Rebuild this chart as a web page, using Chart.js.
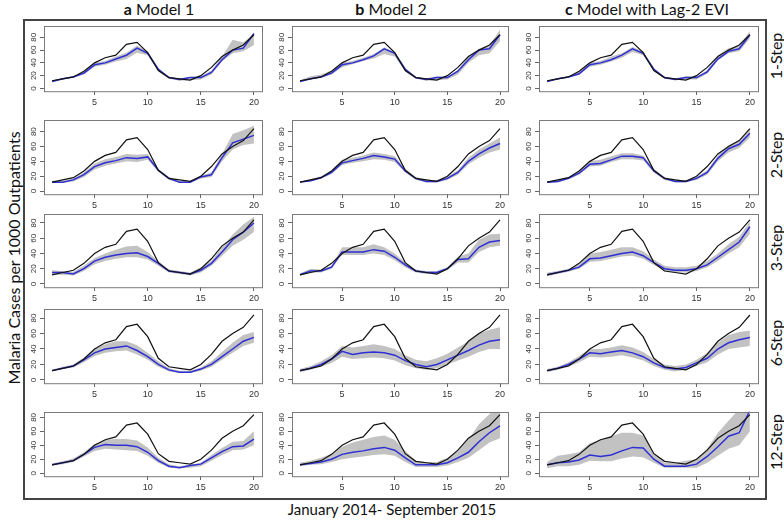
<!DOCTYPE html>
<html>
<head>
<meta charset="utf-8">
<script src="https://cdn.jsdelivr.net/npm/chart.js@4.4.1/dist/chart.umd.min.js"></script>
<style>
body { margin: 0; background: #fff; width: 784px; height: 521px; position: relative; overflow: hidden; font-family: Lato, "Open Sans", sans-serif; color: #111; }
#frame { position: absolute; left: 23px; top: 19px; width: 740px; height: 477px; border: 2px solid #444; }
.ttl { position: absolute; top: 0; font-size: 16px; line-height: 18px; white-space: nowrap; transform: translateX(-50%); }
.rot { position: absolute; font-size: 16px; white-space: nowrap; transform: translate(-50%, -50%) rotate(-90deg); }
.xt { position: absolute; font-size: 15px; white-space: nowrap; transform: translate(-50%, -50%); }
</style>
</head>
<body>
<div id="frame"></div>
<div class="ttl" style="left:159px"><b>a</b> Model 1</div>
<div class="ttl" style="left:391px"><b>b</b> Model 2</div>
<div class="ttl" style="left:647px"><b>c</b> Model with Lag-2 EVI</div>
<div class="rot" style="left:775px;top:56px">1-Step</div>
<div class="rot" style="left:775px;top:155px">2-Step</div>
<div class="rot" style="left:775px;top:248px">3-Step</div>
<div class="rot" style="left:775px;top:343px">6-Step</div>
<div class="rot" style="left:775px;top:442px">12-Step</div>
<div class="rot" style="left:13px;top:258px">Malaria Cases per 1000 Outpatients</div>
<div class="xt" style="left:392px;top:509px">January 2014- September 2015</div>
<script>
// time index (months) and tick labels
var steps = [1, 2, 3, 4, 5, 6, 7, 8, 9, 10, 11, 12, 13, 14, 15, 16, 17, 18, 19, 20];
var xTicks = [5, 10, 15, 20];
var yTicks = [0, 20, 40, 60, 80];

// observed malaria cases (same in every panel)
var observed = [12, 15, 18, 27, 40, 48, 52, 69, 72, 56, 28, 17, 15, 13, 20, 33, 50, 60, 68, 84];

// 1-step
var predA1 = [11, 15, 18, 24, 37, 40, 46, 52, 63, 55, 30, 17, 14, 17, 17, 25, 45, 60, 63, 86];
var loA1 = [10, 14, 17, 22, 34, 37, 42, 46, 56, 52, 27, 15, 12, 13, 14, 22, 42, 55, 58, 68];
var hiA1 = [13, 16, 19, 26, 40, 43, 50, 56, 67, 58, 32, 18, 16, 18, 19, 28, 50, 76, 72, 86];
var predB1 = [11, 15, 18, 24, 37, 40, 45, 51, 62, 55, 30, 17, 14, 17, 17, 27, 45, 60, 62, 84];
var loB1 = [10, 14, 17, 22, 33, 38, 43, 47, 54, 50, 26, 15, 12, 13, 14, 22, 40, 52, 55, 74];
var hiB1 = [13, 19, 22, 28, 40, 43, 48, 54, 64, 57, 32, 18, 16, 19, 18, 29, 50, 62, 68, 92];
var predC1 = [11, 15, 18, 23, 37, 40, 45, 52, 62, 55, 30, 17, 14, 17, 17, 26, 46, 58, 62, 84];
var loC1 = [10, 14, 17, 21, 34, 37, 42, 48, 57, 52, 27, 15, 13, 14, 14, 23, 44, 55, 58, 78];
var hiC1 = [13, 16, 19, 26, 40, 43, 50, 55, 65, 58, 32, 18, 16, 19, 18, 29, 52, 63, 67, 90];

// 2-step
var predA2 = [12, 12, 15, 22, 33, 38, 41, 45, 44, 46, 28, 17, 12, 12, 19, 22, 45, 65, 70, 75];
var loA2 = [11, 11, 13, 19, 29, 34, 37, 40, 39, 42, 26, 15, 11, 11, 17, 19, 40, 56, 62, 64];
var hiA2 = [14, 14, 17, 25, 37, 43, 46, 50, 49, 50, 30, 19, 14, 13, 21, 25, 50, 77, 82, 88];
var predB2 = [12, 14, 18, 25, 38, 41, 44, 48, 46, 43, 27, 17, 13, 13, 17, 25, 40, 50, 58, 64];
var loB2 = [11, 13, 17, 23, 35, 38, 40, 43, 42, 39, 25, 15, 12, 12, 15, 22, 36, 45, 52, 56];
var hiB2 = [13, 16, 20, 28, 42, 45, 48, 52, 50, 47, 30, 19, 15, 15, 20, 28, 45, 56, 64, 72];
var predC2 = [12, 13, 17, 24, 36, 37, 42, 47, 47, 45, 27, 17, 13, 13, 17, 25, 44, 57, 63, 78];
var loC2 = [11, 12, 16, 22, 33, 34, 39, 43, 43, 41, 25, 15, 12, 12, 15, 22, 40, 52, 58, 72];
var hiC2 = [13, 15, 19, 27, 40, 42, 47, 51, 51, 48, 30, 19, 15, 15, 19, 28, 48, 62, 68, 84];

// 3-step
var predA3 = [15, 15, 13, 20, 30, 35, 38, 40, 41, 36, 27, 17, 15, 13, 18, 27, 42, 58, 68, 80];
var loA3 = [12, 12, 11, 17, 26, 30, 33, 35, 35, 32, 24, 15, 13, 11, 15, 24, 37, 50, 58, 68];
var hiA3 = [18, 17, 16, 24, 34, 40, 45, 49, 50, 42, 30, 19, 17, 15, 22, 30, 48, 65, 78, 88];
var predB3 = [12, 17, 17, 22, 42, 42, 42, 45, 43, 35, 25, 17, 15, 15, 20, 32, 33, 48, 55, 57];
var loB3 = [11, 15, 15, 20, 38, 38, 38, 40, 38, 31, 22, 15, 13, 13, 18, 28, 28, 42, 48, 50];
var hiB3 = [14, 20, 19, 24, 48, 48, 48, 52, 48, 40, 28, 19, 17, 17, 22, 36, 40, 58, 65, 66];
var predC3 = [12, 15, 18, 22, 33, 34, 37, 40, 42, 37, 28, 20, 18, 18, 20, 25, 35, 45, 55, 75];
var loC3 = [10, 13, 16, 20, 29, 30, 33, 36, 37, 33, 25, 17, 15, 15, 17, 22, 30, 40, 48, 66];
var hiC3 = [15, 17, 20, 26, 40, 42, 45, 48, 48, 43, 32, 24, 22, 22, 24, 30, 40, 52, 62, 82];

// 6-step
var predA4 = [12, 15, 18, 26, 35, 40, 42, 44, 38, 30, 20, 13, 10, 10, 14, 20, 30, 40, 50, 55];
var loA4 = [11, 14, 16, 23, 31, 35, 37, 38, 33, 26, 17, 11, 9, 9, 12, 17, 26, 35, 44, 48];
var hiA4 = [13, 17, 20, 29, 40, 46, 50, 50, 45, 35, 24, 15, 12, 12, 16, 24, 36, 48, 58, 62];
var predB4 = [12, 15, 20, 27, 37, 33, 35, 36, 35, 32, 25, 20, 17, 20, 26, 32, 38, 45, 50, 52];
var loB4 = [10, 13, 17, 22, 30, 27, 28, 29, 28, 25, 19, 15, 13, 15, 20, 25, 30, 36, 40, 40];
var hiB4 = [14, 18, 24, 32, 44, 42, 44, 46, 44, 40, 32, 26, 24, 28, 34, 42, 50, 60, 65, 68];
var predC4 = [12, 15, 20, 27, 35, 34, 36, 38, 35, 30, 22, 16, 14, 16, 22, 28, 40, 48, 52, 55];
var loC4 = [10, 13, 17, 23, 30, 29, 30, 32, 29, 25, 18, 13, 11, 13, 18, 23, 33, 40, 42, 44];
var hiC4 = [14, 17, 23, 31, 40, 40, 42, 45, 42, 36, 27, 20, 18, 20, 26, 35, 48, 58, 62, 64];

// 12-step
var predA5 = [12, 15, 18, 27, 37, 41, 40, 40, 38, 30, 18, 10, 8, 11, 13, 22, 31, 38, 39, 49];
var loA5 = [11, 13, 16, 24, 32, 35, 34, 33, 32, 25, 15, 8, 7, 8, 10, 18, 26, 33, 34, 40];
var hiA5 = [14, 17, 21, 30, 42, 48, 49, 49, 47, 37, 22, 13, 10, 12, 15, 26, 36, 45, 46, 60];
var predB5 = [12, 14, 16, 20, 27, 30, 32, 35, 37, 33, 22, 12, 12, 12, 15, 22, 30, 45, 58, 68];
var loB5 = [10, 12, 13, 16, 20, 22, 24, 26, 27, 25, 16, 9, 9, 9, 11, 16, 22, 33, 44, 50];
var hiB5 = [15, 18, 22, 28, 38, 44, 48, 52, 54, 48, 32, 18, 16, 16, 22, 32, 48, 70, 85, 95];
var predC5 = [12, 15, 16, 19, 26, 24, 26, 32, 37, 36, 20, 10, 10, 10, 13, 24, 38, 53, 58, 90];
var loC5 = [7, 10, 10, 12, 18, 17, 17, 21, 24, 23, 15, 8, 8, 8, 8, 15, 25, 35, 40, 60];
var hiC5 = [16, 25, 27, 30, 43, 48, 53, 58, 58, 54, 30, 15, 15, 18, 20, 35, 58, 75, 92, 98];

// panel geometry (plot box edges in page pixels)
var colX = [[44, 262], [292, 508], [539, 758]];
var rowY = [[22, 91], [116, 194], [210, 287], [305, 383], [408, 476]];
var yMax = [98, 96, 92, 92, 88];

var boxPlugin = {
    id: 'box',
    afterDraw: function (chart) {
        var a = chart.chartArea, ctx = chart.ctx;
        ctx.save();
        ctx.strokeStyle = '#7a7a7a';
        ctx.lineWidth = 1;
        ctx.strokeRect(Math.round(a.left) + 0.5, Math.round(a.top) + 0.5, a.right - a.left, a.bottom - a.top);
        ctx.restore();
    }
};

function pts(arr) {
    return arr.map(function (v, i) { return { x: steps[i], y: v }; });
}

function makePanel(c, r, pred, lo, hi) {
    var L = colX[c][0], R = colX[c][1], T = rowY[r][0], B = rowY[r][1];
    var padL = 26, padT = 3, padR = 4, padB = 18;
    var cv = document.createElement('canvas');
    cv.width = R - L + padL + padR;
    cv.height = B - T + padT + padB;
    cv.style.position = 'absolute';
    cv.style.left = (L - padL) + 'px';
    cv.style.top = (T - padT) + 'px';
    document.body.appendChild(cv);

    new Chart(cv, {
        type: 'line',
        data: {
            datasets: [
                { data: pts(lo), borderColor: 'rgba(0,0,0,0)', pointRadius: 0, fill: false, order: 3 },
                { data: pts(hi), borderColor: 'rgba(0,0,0,0)', pointRadius: 0, fill: '-1', backgroundColor: '#c2c2c2', order: 2 },
                { data: pts(pred), borderColor: '#2f2fd6', borderWidth: 1.5, pointRadius: 0, fill: false, order: 1 },
                { data: pts(observed), borderColor: '#111', borderWidth: 1.2, pointRadius: 0, fill: false, order: 0 }
            ]
        },
        options: {
            responsive: false,
            animation: false,
            layout: { padding: { top: padT, right: padR } },
            plugins: {
                legend: { display: false },
                tooltip: { enabled: false },
                filler: { drawTime: 'beforeDatasetsDraw' }
            },
            scales: {
                x: {
                    type: 'linear', min: 0.24, max: 20.76,
                    afterFit: function (s) { s.height = padB; },
                    afterBuildTicks: function (s) { s.ticks = xTicks.map(function (v) { return { value: v }; }); },
                    grid: { drawOnChartArea: false, tickLength: 4, color: '#666' },
                    border: { display: false },
                    ticks: { font: { size: 9, family: 'Liberation Sans' }, color: '#333', padding: 2, maxRotation: 0, autoSkip: false }
                },
                y: {
                    min: -4, max: yMax[r],
                    afterFit: function (s) { s.width = padL; },
                    afterBuildTicks: function (s) { s.ticks = yTicks.map(function (v) { return { value: v }; }); },
                    grid: { drawOnChartArea: false, tickLength: 4, color: '#666' },
                    border: { display: false },
                    ticks: { font: { size: 8, family: 'Liberation Sans' }, color: '#333', padding: 2, minRotation: 90, maxRotation: 90, crossAlign: 'center', autoSkip: false }
                }
            }
        },
        plugins: [boxPlugin]
    });
}

var series = [
    [[predA1, loA1, hiA1], [predB1, loB1, hiB1], [predC1, loC1, hiC1]],
    [[predA2, loA2, hiA2], [predB2, loB2, hiB2], [predC2, loC2, hiC2]],
    [[predA3, loA3, hiA3], [predB3, loB3, hiB3], [predC3, loC3, hiC3]],
    [[predA4, loA4, hiA4], [predB4, loB4, hiB4], [predC4, loC4, hiC4]],
    [[predA5, loA5, hiA5], [predB5, loB5, hiB5], [predC5, loC5, hiC5]]
];

for (var r = 0; r < 5; r++) {
    for (var c = 0; c < 3; c++) {
        makePanel(c, r, series[r][c][0], series[r][c][1], series[r][c][2]);
    }
}
</script>
</body>
</html>
